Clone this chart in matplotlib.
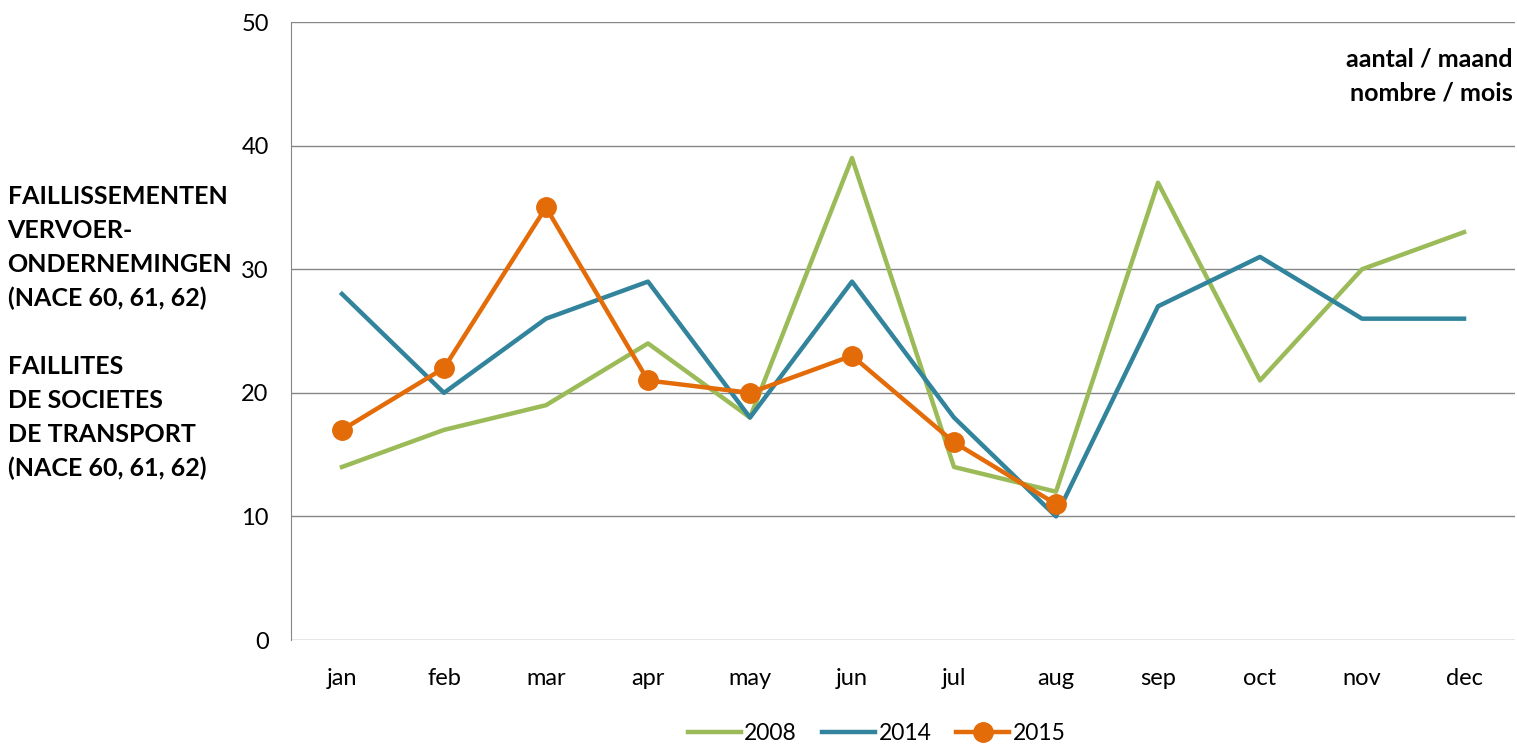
import matplotlib.pyplot as plt

months = ["jan", "feb", "mar", "apr", "may", "jun", "jul", "aug", "sep", "oct", "nov", "dec"]
v2008 = [14, 17, 19, 24, 18, 39, 14, 12, 37, 21, 30, 33]
v2014 = [28, 20, 26, 29, 18, 29, 18, 10, 27, 31, 26, 26]
v2015 = [17, 22, 35, 21, 20, 23, 16, 11]

plt.rcParams['font.family'] = ['Lato', 'DejaVu Sans']

fig = plt.figure(figsize=(15.17, 7.47), dpi=100)
ax = fig.add_axes([0.1918, 0.1432, 0.8069, 0.8273])

x = list(range(len(months)))
ax.plot(x, v2008, color="#9BBB59", lw=3.2, label="2008", zorder=3)
ax.plot(x, v2014, color="#31849B", lw=3.2, label="2014", zorder=4)
ax.plot(x[:len(v2015)], v2015, color="#E36C09", lw=3.2, marker="o", markersize=14,
        label="2015", zorder=5)

ax.set_xlim(-0.5, 11.5)
ax.set_ylim(0, 50)
ax.set_yticks([0, 10, 20, 30, 40, 50])
ax.set_xticks(x)
ax.set_xticklabels(months)
ax.grid(axis="y", color="#868686", lw=1)
ax.set_axisbelow(True)
for s in ["top", "right", "bottom"]:
    ax.spines[s].set_visible(False)
ax.spines["left"].set_color("#868686")
ax.tick_params(length=0, labelsize=17, pad=20)
ax.tick_params(axis="y", pad=16)

ax.text(0.998, 0.958, "aantal / maand\nnombre / mois", transform=ax.transAxes,
        ha="right", va="top", fontsize=18, fontweight="bold", linespacing=1.55)

fig.text(0.005, 0.752, "FAILLISSEMENTEN\nVERVOER-\nONDERNEMINGEN\n(NACE 60, 61, 62)\n\n"
         "FAILLITES\nDE SOCIETES\nDE TRANSPORT\n(NACE 60, 61, 62)",
         ha="left", va="top", fontsize=18, fontweight="bold", linespacing=1.57)

fig.legend(loc="lower center", bbox_to_anchor=(0.578, -0.024), ncol=3, frameon=False,
           fontsize=16.5, handlelength=2.3, handletextpad=0.15, columnspacing=1.1)

fig.savefig("out.png", dpi=100)
